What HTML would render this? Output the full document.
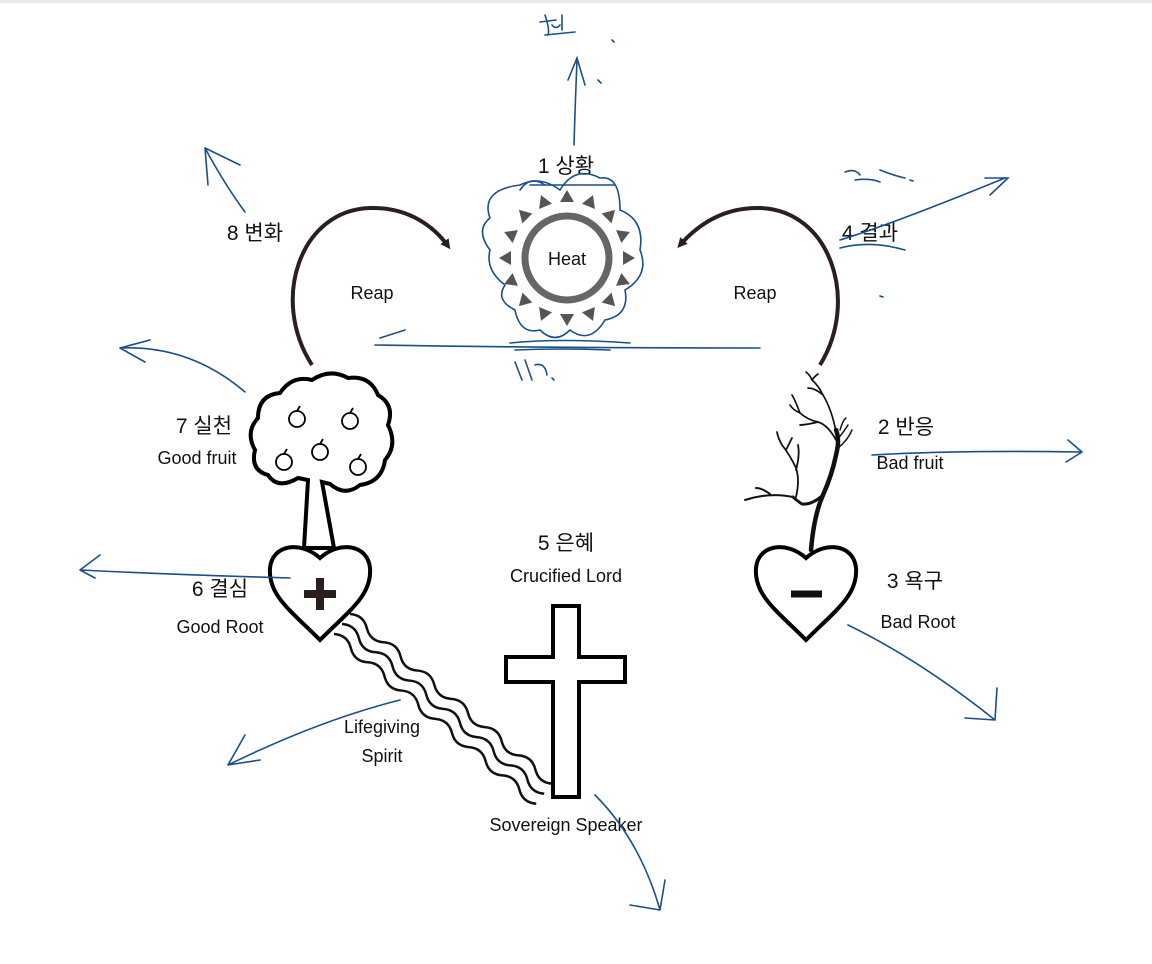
<!DOCTYPE html>
<html><head><meta charset="utf-8"><style>
html,body{margin:0;padding:0;background:#fff;}
svg{display:block;}
text{font-family:"Liberation Sans","Noto Sans CJK KR",sans-serif;fill:#111;}
</style></head><body>
<svg width="1152" height="964" viewBox="0 0 1152 964" xmlns="http://www.w3.org/2000/svg">
<rect x="0" y="0" width="1152" height="3" fill="#e8e8e8"/>
<defs>
<polygon id="tri" points="-7,-56 7,-56 0,-68" fill="#555"/>
<marker id="ah" markerWidth="10" markerHeight="10" refX="6" refY="5" orient="auto" markerUnits="userSpaceOnUse"><path d="M0,0 L10,5 L0,10 Z" fill="#2a1e1e"/></marker>
<path id="wave" d="M0 0 q11 -8 22 0 t22 0 t22 0 t22 0 t22 0 t22 0 t22 0 t22 0 t22 0 t22 0 t22 0 t22 0" fill="none" stroke="#111" stroke-width="2.5"/>
</defs>

<!-- sun -->
<g transform="translate(567,258)">
<circle r="42" fill="#fff" stroke="#666" stroke-width="7"/>
<use href="#tri" transform="rotate(0)"/><use href="#tri" transform="rotate(22.5)"/><use href="#tri" transform="rotate(45)"/><use href="#tri" transform="rotate(67.5)"/>
<use href="#tri" transform="rotate(90)"/><use href="#tri" transform="rotate(112.5)"/><use href="#tri" transform="rotate(135)"/><use href="#tri" transform="rotate(157.5)"/>
<use href="#tri" transform="rotate(180)"/><use href="#tri" transform="rotate(202.5)"/><use href="#tri" transform="rotate(225)"/><use href="#tri" transform="rotate(247.5)"/>
<use href="#tri" transform="rotate(270)"/><use href="#tri" transform="rotate(292.5)"/><use href="#tri" transform="rotate(315)"/><use href="#tri" transform="rotate(337.5)"/>
</g>
<text x="567" y="265" font-size="18" text-anchor="middle">Heat</text>
<text x="566" y="173" font-size="21" text-anchor="middle">1 상황</text>

<!-- arcs -->
<path d="M312 365 C270 300 300 210 370 208 C410 207 435 228 448 246" fill="none" stroke="#2a1e1e" stroke-width="4" marker-end="url(#ah)"/>
<path d="M820 365 C860 300 830 210 760 208 C720 207 695 228 680 245" fill="none" stroke="#2a1e1e" stroke-width="4" marker-end="url(#ah)"/>
<text x="372" y="299" font-size="18" text-anchor="middle">Reap</text>
<text x="755" y="299" font-size="18" text-anchor="middle">Reap</text>
<text x="255" y="240" font-size="21" text-anchor="middle">8 변화</text>
<text x="870" y="240" font-size="21" text-anchor="middle">4 결과</text>

<!-- tree -->
<g fill="#fff" stroke="#000" stroke-width="4">
<path d="M304 548 L308 480 L298 478 Q278 490 268 475 Q250 470 255 450 Q245 432 258 418 Q258 395 280 393 Q292 375 312 380 Q330 368 348 378 Q370 375 378 395 Q395 405 388 425 Q398 445 385 460 Q382 482 360 485 Q345 497 330 484 L322 482 L334 548 Z"/>
<path d="M320 640 C290 610 268 595 270 568 C272 545 300 540 320 558 C340 540 368 545 370 568 C372 595 350 610 320 640 Z"/>
<path d="M806 640 C776 610 754 595 756 568 C758 545 786 540 806 558 C826 540 854 545 856 568 C858 595 836 610 806 640 Z"/>
</g>
<g fill="#fff" stroke="#000" stroke-width="1.8">
<circle cx="297" cy="419" r="8"/><circle cx="350" cy="421" r="8"/><circle cx="320" cy="452" r="8"/><circle cx="284" cy="462" r="8"/><circle cx="358" cy="467" r="8"/>
<path d="M297 411 l3 -5 M350 413 l3 -5 M320 444 l3 -5 M284 454 l3 -5 M358 459 l3 -5"/>
</g>
<path d="M304 594 h32 M320 578 v32" stroke="#2a1e1e" stroke-width="8"/>
<path d="M791 594 h31" stroke="#111" stroke-width="7"/>

<!-- dead tree -->
<g fill="none" stroke="#111" stroke-linecap="round" stroke-linejoin="round">
<path d="M811 550 Q814 515 823 495 Q832 475 836 455 Q840 440 836 430" stroke-width="4.5"/>
<path d="M823 495 Q812 505 802 504 Q796 500 793 497" stroke-width="3"/>
<path d="M793 497 Q770 492 745 500 M770 494 Q762 488 756 488" stroke-width="2"/>
<path d="M796 497 Q800 480 796 468 Q790 455 782 445 M796 470 Q800 455 798 445 M782 445 Q778 438 777 432 M786 450 Q790 442 792 438" stroke-width="1.8"/>
<path d="M836 440 Q828 425 818 422 Q808 420 800 413 Q793 410 790 405 M818 422 Q805 425 800 425 M800 413 Q795 400 792 395" stroke-width="1.7"/>
<path d="M836 432 Q832 410 823 395 Q818 385 812 380 M823 395 Q815 388 808 388 M812 380 Q810 375 806 372 M812 380 Q815 376 818 374" stroke-width="1.7"/>
<path d="M837 440 Q845 430 848 425 M838 448 Q848 440 852 430 M840 430 Q843 420 846 418" stroke-width="1.5"/>
</g>

<!-- waves -->
<use href="#wave" transform="translate(350,614) rotate(40)"/>
<use href="#wave" transform="translate(342,624) rotate(40)"/>
<use href="#wave" transform="translate(334,634) rotate(40)"/>

<!-- cross -->
<path d="M553 606 H579 V657 H625 V682 H579 V797 H553 V682 H506 V657 H553 Z" fill="#fff" stroke="#000" stroke-width="4"/>

<!-- labels -->
<text x="204" y="433" font-size="21" text-anchor="middle">7 실천</text>
<text x="197" y="464" font-size="18" text-anchor="middle">Good fruit</text>
<text x="220" y="596" font-size="21" text-anchor="middle">6 결심</text>
<text x="220" y="633" font-size="18" text-anchor="middle">Good Root</text>
<text x="566" y="550" font-size="21" text-anchor="middle">5 은혜</text>
<text x="566" y="582" font-size="18" text-anchor="middle">Crucified Lord</text>
<text x="906" y="434" font-size="21" text-anchor="middle">2 반응</text>
<text x="910" y="469" font-size="18" text-anchor="middle">Bad fruit</text>
<text x="915" y="588" font-size="21" text-anchor="middle">3 욕구</text>
<text x="918" y="628" font-size="18" text-anchor="middle">Bad Root</text>
<text x="382" y="733" font-size="18" text-anchor="middle">Lifegiving</text>
<text x="382" y="762" font-size="18" text-anchor="middle">Spirit</text>
<text x="566" y="831" font-size="18" text-anchor="middle">Sovereign Speaker</text>

<!-- blue handwriting -->
<g fill="none" stroke="#1a4f8a" stroke-width="1.6" stroke-linecap="round">
<path d="M574 145 Q575 110 577 60 M568 80 L577 58 L585 85"/>
<path d="M545 15 Q550 30 548 35 M540 22 L556 20 M552 25 Q556 30 560 25 M562 15 L562 30 M545 35 L575 32 M612 40 l2 2 M598 80 l3 3"/>
<path d="M245 212 Q225 185 205 148 M205 148 L208 185 M205 148 L240 165"/>
<path d="M845 172 Q855 168 860 175 M855 180 Q870 178 880 182 M880 170 Q895 176 905 178 M910 180 l3 1"/>
<path d="M840 240 Q890 225 1005 178 M985 178 L1008 178 L990 195"/>
<path d="M840 248 Q870 240 905 250 M880 296 l3 1"/>
<path d="M490 218 Q480 190 520 185 Q540 175 560 190 Q575 165 600 178 Q620 175 620 210 Q645 220 640 250 Q650 275 625 290 Q630 315 605 320 Q590 345 570 330 Q555 345 540 330 Q520 335 515 310 Q495 300 505 285 Q485 270 490 250 Q475 230 490 218 Z"/>
<path d="M530 185 L615 185 M520 190 Q530 175 545 185"/>
<path d="M375 345 Q550 348 760 348 M380 338 L405 330 M510 343 Q560 338 630 343 M515 350 Q560 348 610 350"/>
<path d="M515 362 Q520 375 522 380 M525 360 L532 380 M535 365 Q545 362 547 375 M552 378 l2 2"/>
<path d="M245 392 Q190 345 120 348 M120 348 L150 340 M120 348 L145 362"/>
<path d="M290 578 Q180 575 80 570 M80 570 L100 555 M80 570 L95 578"/>
<path d="M848 625 Q920 660 995 720 M995 720 L997 688 M995 720 L965 718"/>
<path d="M872 455 Q960 450 1082 452 M1082 452 L1068 440 M1082 452 L1066 462"/>
<path d="M400 700 Q320 720 228 765 M228 765 L245 735 M228 765 L260 760"/>
<path d="M595 795 Q640 840 660 910 M660 910 L630 905 M660 910 L665 880"/>
</g>
</svg>
</body></html>
